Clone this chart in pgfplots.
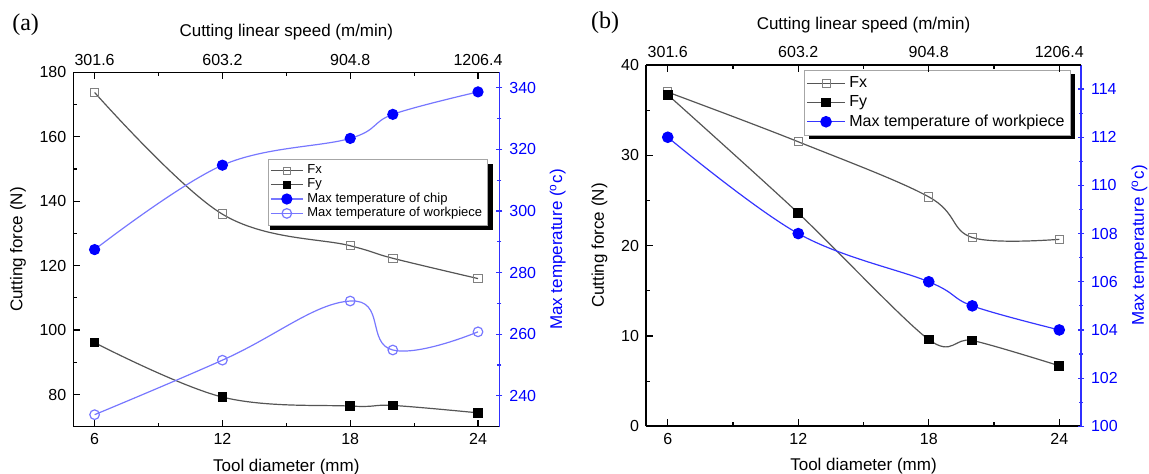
\documentclass[border=0pt]{standalone}
\usepackage{pgfplots}
\pgfplotsset{compat=1.18}
\usepackage{fontspec}
\setmainfont{Liberation Sans}
\newfontfamily\seriffont{Liberation Serif}

\definecolor{lblue}{HTML}{7777FF}
\definecolor{mblue}{HTML}{3535FF}
\definecolor{dblue}{HTML}{0000FF}
\definecolor{axblue}{HTML}{3030FF}
\definecolor{cgray}{HTML}{555555}

\pgfplotsset{
  base/.style={
    scale only axis, xmin=5, xmax=25,
    tick label style={font=\fontsize{8}{9}\selectfont},
    label style={font=\fontsize{8.5}{10}\selectfont},
    /pgf/number format/assume math mode=true,
    major tick length=3.5pt, minor tick length=2pt,
    tick align=inside,
    axis line style={line width=0.8pt},
    every tick/.style={line width=0.6pt},
  },
  fxm/.style={mark=square, mark options={solid, draw=gray, fill=white, line width=0.5pt}},
  fym/.style={mark=square*, mark options={solid, draw=black, fill=black}},
}

\begin{document}
\begin{tikzpicture}
\path[use as bounding box] (0,0) rectangle (574.5pt,237pt);

% legend shadows (decoration behind the legend boxes)
\fill[black] (135pt,122pt) rectangle (246.5pt,155pt);
\fill[black] (404.5pt,167.5pt) rectangle (537.5pt,200pt);

% ================= Panel (a) =================
\begin{axis}[base, at={(36.65pt,23.65pt)}, anchor=south west, width=213pt, height=177.1pt,
  axis x line*=bottom, axis y line*=left,
  ymin=70, ymax=180, ytick={80,100,...,180}, minor y tick num=1,
  xtick={6,12,18,24}, minor x tick num=1,
  xlabel={Tool diameter (mm)}, ylabel={Cutting force (N)}]
\addplot[cgray, line width=0.6pt, smooth, tension=0.6, fxm, mark size=2.1pt] coordinates {(6,173.8)(12,136.0)(18,126.2)(20,122.3)(24,116.0)};
\addplot[cgray, line width=0.6pt, smooth, tension=0.6, fym, mark size=2.1pt] coordinates {(6,96.1)(12,79.2)(18,76.4)(20,76.6)(24,74.3)};
\end{axis}

\begin{axis}[base, at={(36.65pt,23.65pt)}, anchor=south west, width=213pt, height=177.1pt,
  hide x axis, axis y line*=right,
  ymin=230, ymax=345, ytick={240,260,...,340}, minor y tick num=1,
  tick align=center, major tick length=3pt, minor tick length=2pt,
  y axis line style={axblue}, tick style={axblue},
  yticklabel style={text=dblue},
  ylabel={Max temperature (\textsuperscript{o}c)}, ylabel style={text=dblue},
  legend cell align=left,
  legend image code/.code={\draw[mark repeat=2,mark phase=2] plot coordinates {(0cm,0cm)(0.28cm,0cm)(0.56cm,0cm)};},
  legend style={at={(0.974,0.756)}, anchor=north east, draw=gray!70, fill=white,
    font=\fontsize{6.5}{7}\selectfont, inner sep=0.8pt, row sep=-3pt}]
\addlegendimage{cgray, line width=0.6pt, fxm, mark size=1.7pt}
\addlegendentry{Fx}
\addlegendimage{cgray, line width=0.6pt, fym, mark size=1.7pt}
\addlegendentry{Fy}
\addplot[lblue, line width=0.6pt, smooth, tension=0.6, mark=*, mark size=2.5pt, mark options={solid, draw=dblue, fill=dblue}]
  coordinates {(6,287.5)(12,314.9)(18,323.6)(20,331.4)(24,338.7)};
\addlegendentry{Max temperature of chip}
\addplot[lblue, line width=0.6pt, smooth, tension=0.75, mark=o, mark size=2.4pt, mark options={solid, draw=lblue, fill=white}]
  coordinates {(6,233.9)(12,251.6)(18,270.8)(20,254.9)(24,260.8)};
\addlegendentry{Max temperature of workpiece}
\end{axis}

\begin{axis}[base, at={(36.65pt,23.65pt)}, anchor=south west, width=213pt, height=177.1pt,
  axis x line*=top, hide y axis, ymin=0, ymax=1,
  xtick={6,12,18,24}, xticklabels={301.6,603.2,904.8,1206.4}, minor x tick num=1,
  xlabel={Cutting linear speed (m/min)}]
\end{axis}

\node[font=\seriffont\fontsize{12}{13}\selectfont] at (12.8pt,224.5pt) {(a)};

% ================= Panel (b) =================
\begin{axis}[base, at={(323pt,23.85pt)}, anchor=south west, width=217.5pt, height=180.65pt,
  axis x line*=bottom, axis y line*=left,
  ymin=0, ymax=40, ytick={0,10,...,40}, minor y tick num=1,
  xtick={6,12,18,24}, minor x tick num=1,
  xlabel={Tool diameter (mm)}, ylabel={Cutting force (N)}]
\addplot[cgray, line width=0.6pt, smooth, tension=0.6, fxm, mark size=2.1pt] coordinates {(6,37.0)(12,31.5)(18,25.4)(20,20.9)(24,20.7)};
\addplot[cgray, line width=0.6pt, smooth, tension=0.5, fym, mark size=2.1pt] coordinates {(6,36.7)(12,23.6)(18,9.6)(20,9.5)(24,6.7)};
\end{axis}

\begin{axis}[base, at={(323pt,23.85pt)}, anchor=south west, width=217.5pt, height=180.65pt,
  hide x axis, axis y line*=right,
  ymin=100, ymax=115, ytick={100,102,...,114}, minor y tick num=1,
  tick align=center, major tick length=3pt, minor tick length=2pt,
  y axis line style={axblue}, tick style={axblue},
  yticklabel style={text=dblue},
  ylabel={Max temperature (\textsuperscript{o}c)}, ylabel style={text=dblue},
  legend cell align=left,
  legend image code/.code={\draw[mark repeat=2,mark phase=2] plot coordinates {(0cm,0cm)(0.33cm,0cm)(0.66cm,0cm)};},
  legend style={at={(0.977,0.986)}, anchor=north east, draw=gray!70, fill=white,
    font=\fontsize{8}{9}\selectfont, inner sep=1pt, row sep=-1.5pt}]
\addlegendimage{cgray, line width=0.6pt, fxm, mark size=2pt}
\addlegendentry{Fx}
\addlegendimage{cgray, line width=0.6pt, fym, mark size=2pt}
\addlegendentry{Fy}
\addplot[mblue, line width=0.6pt, smooth, tension=0.6, mark=*, mark size=2.6pt, mark options={solid, draw=dblue, fill=dblue}]
  coordinates {(6,112)(12,108)(18,106)(20,105)(24,104)};
\addlegendentry{Max temperature of workpiece}
\end{axis}

\begin{axis}[base, at={(323pt,23.85pt)}, anchor=south west, width=217.5pt, height=180.65pt,
  axis x line*=top, hide y axis, ymin=0, ymax=1,
  xtick={6,12,18,24}, xticklabels={301.6,603.2,904.8,1206.4}, minor x tick num=1,
  xlabel={Cutting linear speed (m/min)}]
\end{axis}

\node[font=\seriffont\fontsize{12}{13}\selectfont] at (302.5pt,225.5pt) {(b)};

\end{tikzpicture}
\end{document}
